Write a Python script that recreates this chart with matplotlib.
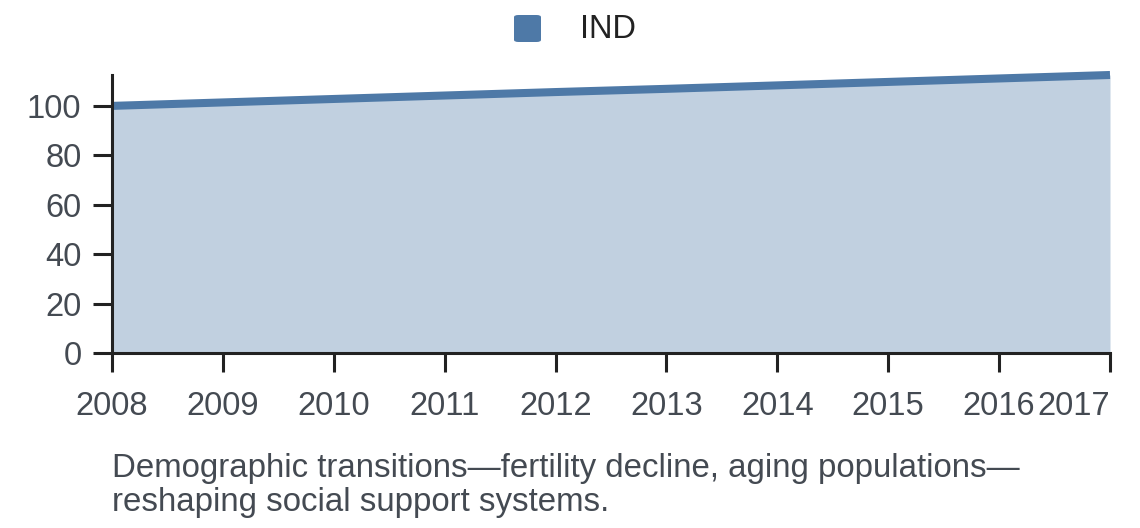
import matplotlib

matplotlib.use("Agg")
import matplotlib.pyplot as plt
from matplotlib.patches import FancyBboxPatch

plt.rcParams["font.family"] = ["Liberation Sans", "DejaVu Sans"]

# India, index 2008 = 100
years = [2008, 2009, 2010, 2011, 2012, 2013, 2014, 2015, 2016, 2017]
values = [100.0, 101.4, 102.8, 104.2, 105.6, 106.9, 108.3, 109.7, 111.1, 112.5]
series_name = "IND"
yticks = [0, 20, 40, 60, 80, 100]
caption = ("Demographic transitions\u2014fertility decline, aging populations\u2014\n"
           "reshaping social support systems.")

LINE = "#4e79a7"
TEXT = "#444a52"
AXIS = "#222"

fig = plt.figure(figsize=(11.4, 5.28), dpi=100)
ax = fig.add_axes([112 / 1140, 1 - 353 / 528, (1110 - 112) / 1140, (353 - 75) / 528])

ax.fill_between(years, values, 0, color=LINE, alpha=0.35, linewidth=0, zorder=1)
ax.plot(years, values, color=LINE, lw=5.8, solid_capstyle="butt", zorder=2,
        clip_on=False)

ax.set_xlim(years[0], years[-1])
ax.set_ylim(0, max(values))
ax.set_xticks(years)
ax.set_xticklabels([str(y) for y in years])
ax.set_yticks(yticks)
ax.set_yticklabels([str(v) for v in yticks])
# last year label hugs the axis end, as in the original
ax.get_xticklabels()[-1].set_horizontalalignment("right")

for s in ("top", "right"):
    ax.spines[s].set_visible(False)
for s in ("left", "bottom"):
    ax.spines[s].set_color(AXIS)
    ax.spines[s].set_linewidth(2.2)
ax.tick_params(axis="both", colors=AXIS, width=2.2, length=13.5, labelsize=23.5,
               labelcolor=TEXT)
ax.tick_params(axis="x", pad=14)
ax.tick_params(axis="y", pad=8.5)

# legend
fig.patches.append(FancyBboxPatch((514 / 1140, 1 - 42 / 528), 27 / 1140, 27 / 528,
                                  boxstyle="round,pad=0,rounding_size=0.004",
                                  transform=fig.transFigure, facecolor=LINE,
                                  edgecolor="none"))
fig.text(580 / 1140, 1 - 29 / 528, series_name, fontsize=23.5, color="#222",
         ha="left", va="center")

fig.text(112 / 1140, 1 - 453 / 528, caption, fontsize=23.8, color=TEXT,
         ha="left", va="top", linespacing=1.13)

fig.savefig("out.png", dpi=100, facecolor="white")
